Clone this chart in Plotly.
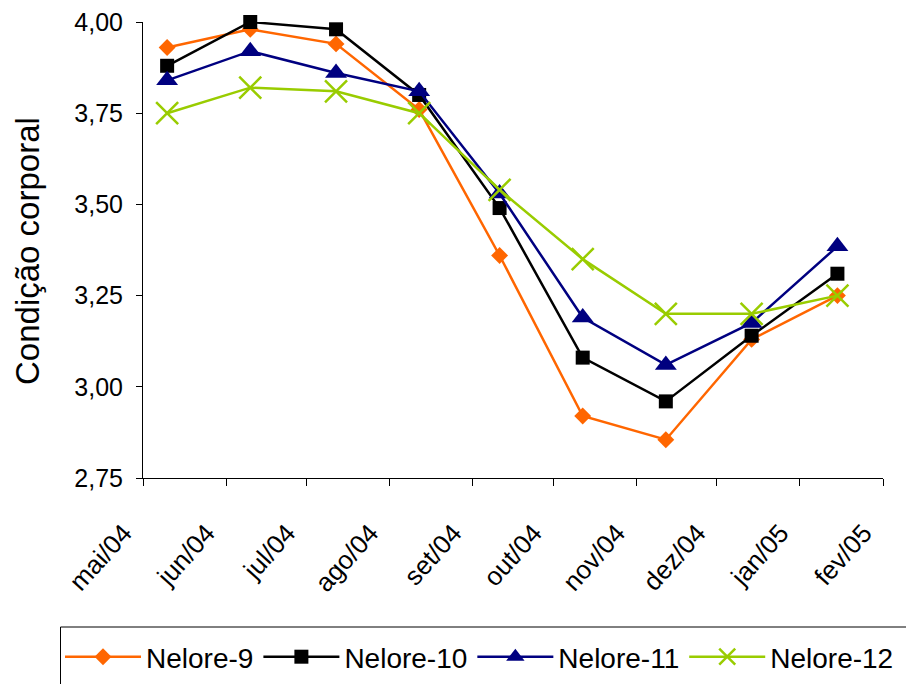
import plotly.graph_objects as go

# Sampling dates (one weighing per month) and body condition scores
dates = ["2004-05-10", "2004-06-10", "2004-07-12", "2004-08-12", "2004-09-11",
         "2004-10-12", "2004-11-12", "2004-12-14", "2005-01-15"]

nelore_9 = [3.93, 3.98, 3.94, 3.76, 3.36, 2.92, 2.855, 3.13, 3.25]
nelore_10 = [3.88, 4.00, 3.98, 3.80, 3.49, 3.08, 2.96, 3.14, 3.31]
nelore_11 = [3.84, 3.92, 3.86, 3.81, 3.53, 3.19, 3.06, 3.175, 3.385]
nelore_12 = [3.75, 3.82, 3.81, 3.75, 3.54, 3.35, 3.20, 3.20, 3.25]

month_ticks = ["2004-05-01", "2004-06-01", "2004-07-01", "2004-08-01", "2004-09-01",
               "2004-10-01", "2004-11-01", "2004-12-01", "2005-01-01", "2005-02-01"]
month_labels = ["mai/04", "jun/04", "jul/04", "ago/04", "set/04",
                "out/04", "nov/04", "dez/04", "jan/05", "fev/05"]

y_ticks = [2.75, 3.00, 3.25, 3.50, 3.75, 4.00]

FONT = "Liberation Sans, Arial, sans-serif"

# plot-area geometry (px) used to place the legend frame in paper units
W, H = 906, 684
ML, MR, MT, MB = 143, 23, 22, 206
PW, PH = W - ML - MR, H - MT - MB


def px_x(px):
    return (px - ML) / PW


def px_y(py):
    return (H - MB - py) / PH


series = [
    ("Nelore-9", nelore_9, "#FF6600", dict(symbol="diamond", size=13)),
    ("Nelore-10", nelore_10, "#000000", dict(symbol="square", size=14)),
    ("Nelore-11", nelore_11, "#000080", dict(symbol="triangle-up", size=19)),
    ("Nelore-12", nelore_12, "#99CC00", dict(symbol="x-thin", size=22,
                                             line=dict(width=2.5, color="#99CC00"))),
]

fig = go.Figure()
for name, vals, color, mk in series:
    fig.add_trace(go.Scatter(
        x=dates, y=vals, name=name, mode="lines+markers",
        line=dict(color=color, width=2.5),
        marker=dict(color=color, **mk),
        cliponaxis=False,
    ))

# trailing no-break spaces nudge the slanted month labels away from their tick
pad = "\u00a0" * 4
fig.update_layout(
    width=W, height=H,
    margin=dict(l=ML, r=MR, t=MT, b=MB, autoexpand=False),
    paper_bgcolor="white", plot_bgcolor="white",
    separators=",.",
    font=dict(family=FONT, color="black"),
    showlegend=True,
    legend=dict(
        orientation="h",
        x=px_x(60), xanchor="left", y=px_y(632), yanchor="top",
        borderwidth=0, bgcolor="rgba(0,0,0,0)",
        font=dict(size=28, family=FONT),
        itemwidth=76,
    ),
    xaxis=dict(
        type="date",
        range=["2004-05-01", "2005-02-01"],
        tickvals=month_ticks, ticktext=[m + pad for m in month_labels],
        tickangle=-48,
        tickfont=dict(size=26, family=FONT),
        showline=True, linecolor="black", linewidth=1,
        ticks="outside", ticklen=7, tickcolor="black", tickwidth=1,
        showgrid=False, zeroline=False,
        ticklabelstandoff=0,
    ),
    yaxis=dict(
        range=[2.75, 4.00],
        tickvals=y_ticks, tickformat=".2f",
        tickfont=dict(size=25, family=FONT),
        showline=True, linecolor="black", linewidth=1,
        ticks="outside", ticklen=6, tickcolor="black", tickwidth=1,
        showgrid=False, zeroline=False,
        ticklabelstandoff=8,
    ),
    shapes=[dict(
        type="rect", xref="paper", yref="paper",
        x0=px_x(60.5), x1=px_x(W + 20), y0=px_y(627), y1=px_y(H + 20),
        line=dict(color="black", width=1), fillcolor="rgba(0,0,0,0)",
        layer="below",
    )],
    annotations=[dict(
        text="Condição corporal", textangle=-90,
        xref="paper", yref="paper", x=px_x(27), y=px_y(251),
        xanchor="center", yanchor="middle", showarrow=False,
        font=dict(size=33, family=FONT, color="black"),
    )],
)

fig.write_html("out.html")
